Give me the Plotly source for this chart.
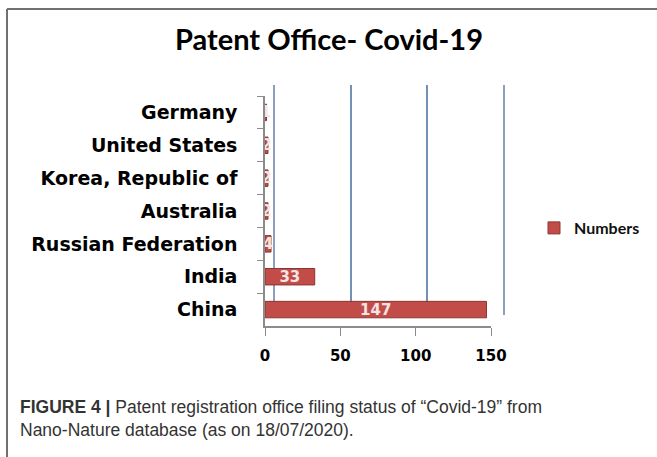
import plotly.graph_objects as go

countries = ["Germany", "United States", "Korea, Republic of", "Australia",
             "Russian Federation", "India", "China"]
numbers = [1, 2, 2, 2, 4, 33, 147]
x_ticks = [0, 50, 100, 150]
series_name = "Numbers"
title_text = "Patent Office- Covid-19"
caption_text = ("<b>FIGURE 4 |</b> Patent registration office filing status of \u201cCovid-19\u201d from"
                "<br>Nano-Nature database (as on 18/07/2020).")

W, H = 657, 457
L, R, T, B = 265, 154, 85, 131
PW, PH = W - L - R, H - T - B


def px_x(p):
    return (p - L) / PW


def px_y(p):
    return 1 - (p - T) / PH


fig = go.Figure()

# invisible copy of the series on the "back wall" subplot (gives the offset gridlines)
fig.add_trace(go.Bar(
    x=numbers, y=countries, orientation="h", xaxis="x", yaxis="y",
    width=0.5, marker=dict(color="rgba(0,0,0,0)", line=dict(width=0)),
    hoverinfo="skip", showlegend=False,
))

fig.add_trace(go.Bar(
    x=numbers, y=countries, orientation="h", name=series_name,
    xaxis="x2", yaxis="y2",
    width=0.5,
    marker=dict(color="#C24C48", line=dict(color="#8E3431", width=1)),
    texttemplate="%{x}", textposition="inside", insidetextanchor="middle",
    textangle=0,
    textfont=dict(family="DejaVu Sans", size=15, color="#F4E4E3", weight="bold"),
    showlegend=True,
))

axis_font = dict(family="DejaVu Sans", size=15, color="#000000", weight="bold")
cat_font = dict(family="DejaVu Sans", size=19, color="#000000", weight="bold")

fig.update_layout(
    width=W, height=H,
    margin=dict(l=L, r=R, t=T, b=B, autoexpand=False),
    paper_bgcolor="white", plot_bgcolor="rgba(0,0,0,0)",
    # back wall (3D-like offset gridlines)
    xaxis=dict(domain=[10 / PW, 1], range=[0, 150], tickvals=x_ticks,
               showgrid=True, gridcolor="#7391B6", gridwidth=2,
               zeroline=False, showline=False, showticklabels=False, ticks="",
               automargin=False),
    yaxis=dict(domain=[11 / PH, 1], autorange="reversed", type="category",
               categoryorder="array", categoryarray=countries,
               showgrid=False, zeroline=False,
               showline=True, mirror=True, linecolor="#8AA0BE", linewidth=2,
               showticklabels=False, ticks="", automargin=False),
    # front axes with bars
    xaxis2=dict(domain=[0, 226 / PW], range=[0, 150], tickvals=x_ticks,
                anchor="y2", showgrid=False, zeroline=False,
                showline=True, linecolor="#8C8C8C", linewidth=1.5,
                ticks="outside", ticklen=8, tickcolor="#8C8C8C",
                ticklabelstandoff=7, tickfont=axis_font, automargin=False),
    yaxis2=dict(domain=[0, 230 / PH], anchor="x2", autorange="reversed",
                type="category", categoryorder="array", categoryarray=countries,
                showgrid=False, zeroline=False,
                showline=True, linecolor="#8C8C8C", linewidth=1.5,
                ticks="outside", ticklen=6, tickcolor="#8C8C8C",
                tickson="boundaries", ticklabelstandoff=22, tickfont=cat_font,
                automargin=False),
    title=dict(text=title_text, xref="container", yref="container",
               x=329 / W, y=1 - 40 / H, xanchor="center", yanchor="middle",
               font=dict(family="Lato", size=29, color="#000000", weight="bold")),
    legend=dict(xref="container", yref="container", x=534 / W, y=1 - 228 / H,
                xanchor="left", yanchor="middle", bgcolor="rgba(0,0,0,0)",
                font=dict(family="Lato", size=16, color="#111111", weight="bold"),
                itemwidth=30),
    uniformtext=dict(minsize=14, mode="show"),
    bargap=0.5,
)

fig.add_annotation(text=caption_text, xref="paper", yref="paper",
                   x=px_x(18), y=px_y(395), xanchor="left", yanchor="top",
                   align="left", showarrow=False,
                   font=dict(family="Liberation Sans Narrow, Liberation Sans", size=17.5,
                             color="#333333"))

# outer frame
fig.add_shape(type="line", xref="paper", yref="paper",
              x0=px_x(7), x1=px_x(W + 5), y0=px_y(9), y1=px_y(9),
              line=dict(color="#707070", width=2))
fig.add_shape(type="line", xref="paper", yref="paper",
              x0=px_x(7), x1=px_x(7), y0=px_y(9), y1=px_y(H + 5),
              line=dict(color="#707070", width=2))

fig.write_html("out.html",
               config={"displayModeBar": False},
               post_script="document.body.style.margin='0';document.body.style.padding='0';")
